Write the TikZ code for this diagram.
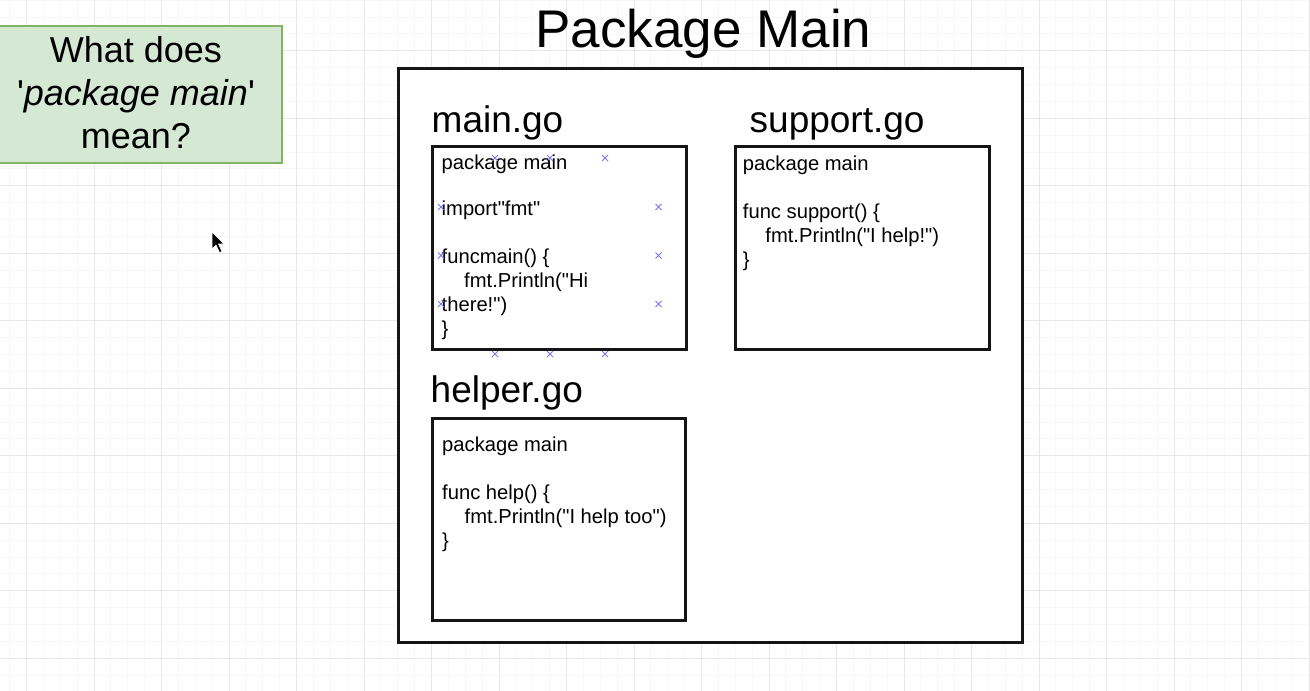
\documentclass[tikz,border=0pt]{standalone}
\usepackage{fontspec}
\newfontfamily\arial{Liberation Sans}
\definecolor{gridmajor}{HTML}{E8E8E8}
\definecolor{gridminor}{HTML}{F7F7F7}
\definecolor{qfill}{HTML}{D5E8D4}
\definecolor{qline}{HTML}{82B366}
\definecolor{handlecol}{HTML}{7878F0}
\definecolor{boxline}{HTML}{151515}
\tikzset{
  minorgrid/.style={gridminor, line width=0.8pt},
  majorgrid/.style={gridmajor, line width=1pt},
  qbox/.style={draw=qline, fill=qfill, line width=2.2pt, inner sep=0pt},
  qtext/.style={font=\arial\fontsize{36}{43.2}\selectfont, align=center, inner sep=0pt},
  titletext/.style={font=\arial\fontsize{53}{60}\selectfont, inner sep=0pt, anchor=base},
  filelabel/.style={font=\arial\fontsize{37}{42}\selectfont, inner sep=0pt, anchor=base west},
  pkgbox/.style={draw=boxline, fill=white, line width=3pt, inner sep=0pt},
  filebox/.style={draw=boxline, fill=white, line width=3pt, inner sep=0pt},
  codeline/.style={font=\arial\fontsize{20.2}{24}\selectfont, inner sep=0pt, anchor=base west},
  handle/.style={handlecol, line width=1pt},
}
\begin{document}
\begin{tikzpicture}[x=1pt,y=-1pt]
\useasboundingbox (0,0) rectangle (1310,691);
\fill[white] (0,0) rectangle (1310,691);
\begin{scope}
\clip (0,0) rectangle (1310,691);
% grid
\foreach \i in {-2,...,78} {
  \draw[minorgrid] ({26.5+16.875*\i},0) -- ({26.5+16.875*\i},691);
}
\foreach \i in {-4,...,40} {
  \draw[minorgrid] (0,{50.7+16.875*\i}) -- (1310,{50.7+16.875*\i});
}
\foreach \i in {0,...,19} {
  \draw[majorgrid] ({26.5+67.5*\i},0) -- ({26.5+67.5*\i},691);
}
\foreach \i in {-1,...,10} {
  \draw[majorgrid] (0,{50.7+67.5*\i}) -- (1310,{50.7+67.5*\i});
}
\end{scope}

% question box
\node[qbox, minimum width=283.5pt, minimum height=136.7pt] (q) at (140,94.3) {};
\node[qtext] (qt) at (136,92.7) {What does\\'\textit{package main}'\\mean?};

% cursor
\fill[black, draw=white, line width=0.6pt] (212,232) -- ++(0,17) -- ++(4,-4) -- ++(3.5,7.5) -- ++(2.5,-1) -- ++(-3.5,-7.5) -- ++(5.5,0) -- cycle;

% title
\node[titletext] (title) at (703.5,47) {Package Main};

% package box
\node[pkgbox, minimum width=624pt, minimum height=574pt] (pkg) at (710,355) {};

% file boxes
\node[filebox, minimum width=254pt, minimum height=203pt] (mainbox) at (559,247.5) {};
\node[filebox, minimum width=254pt, minimum height=203pt] (supbox) at (862.5,247.5) {};
\node[filebox, minimum width=253.5pt, minimum height=202pt] (helpbox) at (558.8,519) {};

% file labels
\node[filelabel] (mainlbl) at (431.5,132) {main.go};
\node[filelabel] (suplbl) at (749.5,132) {support.go};
\node[filelabel] (helplbl) at (430.5,402.5) {helper.go};

% main.go code
\node[codeline] (m1) at (441.5,169.5) {package main};
\node[codeline] (m2) at (441.5,215.5) {import"fmt"};
\node[codeline] (m3) at (441.5,263.5) {funcmain() \{};
\node[codeline] (m4) at (464,287.5) {fmt.Println("Hi};
\node[codeline] (m5) at (441.5,311.5) {there!")};
\node[codeline] (m6) at (441.5,335.5) {\}};

% support.go code
\node[codeline] (s1) at (742.7,170.5) {package main};
\node[codeline] (s2) at (742.7,218.5) {func support() \{};
\node[codeline] (s3) at (765.2,242.5) {fmt.Println("I help!")};
\node[codeline] (s4) at (742.7,266.5) {\}};

% helper.go code
\node[codeline] (h1) at (442,451.5) {package main};
\node[codeline] (h2) at (442,499.5) {func help() \{};
\node[codeline] (h3) at (464.5,523.5) {fmt.Println("I help too")};
\node[codeline] (h4) at (442,547.5) {\}};

% selection handles
\foreach \hx/\hy in {495/158, 550/158, 605/158, 441/207, 658.5/207, 441/255.5, 658.5/255.5, 441/304, 658.5/304, 495/354, 550/354, 605/354} {
  \draw[handle] ({\hx-3},{\hy-3}) -- ({\hx+3},{\hy+3}) ({\hx-3},{\hy+3}) -- ({\hx+3},{\hy-3});
}
\end{tikzpicture}
\end{document}
